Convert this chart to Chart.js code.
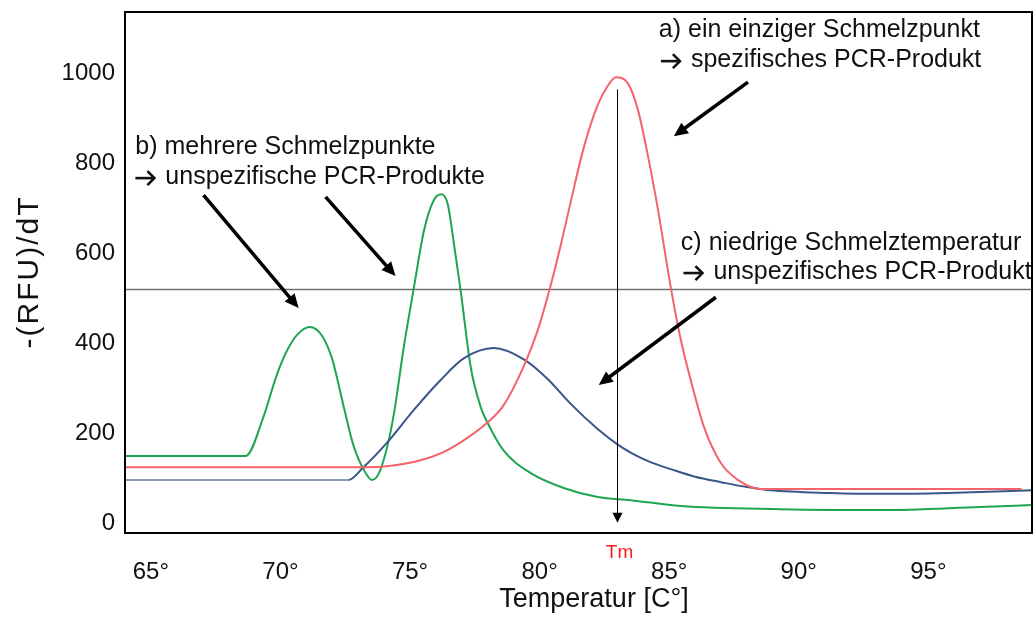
<!DOCTYPE html>
<html lang="de">
<head>
<meta charset="utf-8">
<title>Schmelzkurvenanalyse</title>
<script src="https://cdn.jsdelivr.net/npm/chart.js@4.4.1/dist/chart.umd.min.js"></script>
<style>
  html, body { margin: 0; padding: 0; background: #fff; }
  #wrap { width: 1035px; height: 617px; position: relative; }
</style>
</head>
<body>
<div id="wrap"><canvas id="melt"></canvas></div>
<script>
// Temperature ticks (°C) and -(RFU)/dT ticks
const tempTicks = [65, 70, 75, 80, 85, 90, 95];
const rfuTicks = [0, 200, 400, 600, 800, 1000];

// a) specific product: one melting peak
const redT = [64, 73.3, 75.14, 76.18, 77.07, 78.0, 78.6, 79.39, 79.93, 80.43, 80.8, 81.2, 81.7, 82.24, 82.63, 82.94, 83.4, 83.79, 84.17, 84.56, 85.06, 85.45, 85.83, 86.34, 87.0, 87.65, 88.27, 88.6, 98.6];
const redV = [125, 125, 137, 156, 185, 225, 262, 350, 430, 530, 615, 715, 835, 930, 973, 992, 979, 920, 820, 700, 525, 408, 319, 215, 134, 97, 79, 77, 77];

// b) several melting peaks
const greenT = [64, 68.65, 69.36, 69.74, 70.0, 70.32, 70.65, 71.12, 71.61, 72.0, 72.19, 72.5, 72.83, 73.29, 73.54, 73.8, 74.12, 74.38, 74.76, 75.15, 75.54, 75.92, 76.21, 76.45, 76.71, 76.95, 77.34, 77.72, 78.0, 78.6, 79.66, 80.93, 82.24, 83.5, 85.45, 89.3, 93.2, 97.0, 99.0];
const greenV = [150, 150, 240, 310, 352, 392, 420, 437, 417, 365, 322, 245, 171, 112, 97, 112, 171, 245, 393, 525, 652, 719, 732, 711, 615, 519, 348, 260, 223, 163, 112, 79, 59, 52, 39, 32, 30, 37, 41];

// c) low melting temperature, broad peak
const blueT = [64, 72.63, 73.2, 74.13, 75.14, 76.18, 77.07, 78.23, 79.39, 80.3, 81.2, 82.24, 83.0, 83.6, 84.3, 85.06, 86.0, 87.0, 88.0, 88.9, 91.2, 93.2, 95.75, 99.0];
const blueV = [97, 97, 125, 181, 252, 319, 367, 390, 365, 322, 266, 210, 176, 155, 136, 121, 104, 92, 81, 74, 68, 66, 68, 74];

// threshold level and melting temperature marker
const thresholdV = 520;
const tmT = 83;
const tmTop = 965;

const zip = (xs, ys) => xs.map((x, i) => ({ x: x, y: ys[i] }));
const FONT = '"Liberation Sans", Arial, Helvetica, sans-serif';

// text notes (arrow: line starts with a right arrow) and pointer arrows, in data units
const notes = [
  { t: 84.6, v: 1097, arrow: false, text: 'a) ein einziger Schmelzpunkt' },
  { t: 84.68, v: 1030, arrow: true, text: 'spezifisches PCR-Produkt' },
  { t: 64.4, v: 837, arrow: false, text: 'b) mehrere Schmelzpunkte' },
  { t: 64.4, v: 770, arrow: true, text: 'unspezifische PCR-Produkte' },
  { t: 85.45, v: 623, arrow: false, text: 'c) niedrige Schmelztemperatur' },
  { t: 85.55, v: 559, arrow: true, text: 'unspezifisches PCR-Produkt' }
];
const pointers = [
  { t0: 88.04, v0: 981, t1: 85.18, v1: 861 },
  { t0: 67.03, v0: 730, t1: 70.7, v1: 479 },
  { t0: 71.74, v0: 726, t1: 74.44, v1: 550 },
  { t0: 86.8, v0: 503, t1: 82.28, v1: 308 }
];

function arrowHead(ctx, x0, y0, x1, y1, len, half) {
  const a = Math.atan2(y1 - y0, x1 - x0);
  ctx.beginPath();
  ctx.moveTo(x1, y1);
  ctx.lineTo(x1 - len * Math.cos(a) + half * Math.sin(a), y1 - len * Math.sin(a) - half * Math.cos(a));
  ctx.lineTo(x1 - len * Math.cos(a) - half * Math.sin(a), y1 - len * Math.sin(a) + half * Math.cos(a));
  ctx.closePath();
  ctx.fill();
}

// small chevron arrow used in front of the second note lines
function textArrow(ctx, x, y) {
  ctx.save();
  ctx.strokeStyle = '#111';
  ctx.lineWidth = 2.6;
  ctx.lineCap = 'butt';
  ctx.lineJoin = 'miter';
  ctx.beginPath();
  ctx.moveTo(x, y);
  ctx.lineTo(x + 19, y);
  ctx.stroke();
  ctx.beginPath();
  ctx.moveTo(x + 12, y - 7);
  ctx.lineTo(x + 19, y);
  ctx.lineTo(x + 12, y + 7);
  ctx.stroke();
  ctx.restore();
}

const overlay = {
  id: 'meltOverlay',
  beforeDatasetsDraw(chart) {
    const { ctx, chartArea: ca, scales: { y } } = chart;
    ctx.save();
    // threshold line
    const ty = y.getPixelForValue(thresholdV);
    ctx.strokeStyle = '#707070';
    ctx.lineWidth = 1.5;
    ctx.beginPath();
    ctx.moveTo(ca.left, ty);
    ctx.lineTo(ca.right, ty);
    ctx.stroke();
    ctx.restore();
  },
  afterDraw(chart) {
    const { ctx, chartArea: ca, scales: { x, y } } = chart;
    ctx.save();

    // Tm marker: thin arrow from the peak down to the axis
    const tx = Math.round(x.getPixelForValue(tmT)) + 0.5;
    const yTop = y.getPixelForValue(tmTop);
    const yBot = y.getPixelForValue(2);
    ctx.strokeStyle = '#000';
    ctx.fillStyle = '#000';
    ctx.lineWidth = 1;
    ctx.beginPath();
    ctx.moveTo(tx, yTop);
    ctx.lineTo(tx, yBot - 8);
    ctx.stroke();
    arrowHead(ctx, tx, yTop, tx, yBot, 10, 5);

    // pointer arrows
    ctx.lineWidth = 3.5;
    ctx.lineCap = 'butt';
    pointers.forEach(p => {
      const x0 = x.getPixelForValue(p.t0), y0 = y.getPixelForValue(p.v0);
      const x1 = x.getPixelForValue(p.t1), y1 = y.getPixelForValue(p.v1);
      const a = Math.atan2(y1 - y0, x1 - x0);
      ctx.beginPath();
      ctx.moveTo(x0, y0);
      ctx.lineTo(x1 - 10 * Math.cos(a), y1 - 10 * Math.sin(a));
      ctx.stroke();
      arrowHead(ctx, x0, y0, x1, y1, 14, 6.5);
    });

    // notes
    ctx.fillStyle = '#111';
    ctx.font = '25px ' + FONT;
    ctx.textAlign = 'left';
    ctx.textBaseline = 'middle';
    notes.forEach(n => {
      const px = x.getPixelForValue(n.t), py = y.getPixelForValue(n.v);
      if (n.arrow) {
        textArrow(ctx, px, py + 1);
        ctx.fillText(n.text, px + 30, py);
      } else {
        ctx.fillText(n.text, px, py);
      }
    });

    // Tm label under the axis
    ctx.fillStyle = '#ff1a1a';
    ctx.font = '19px ' + FONT;
    ctx.textAlign = 'center';
    ctx.fillText('Tm', tx + 2, ca.bottom + 20);

    // axis titles
    ctx.fillStyle = '#111';
    ctx.font = '27px ' + FONT;
    ctx.textAlign = 'center';
    ctx.fillText('Temperatur [C\u00b0]', 594, 600);
    ctx.save();
    ctx.translate(30, 273);
    ctx.rotate(-Math.PI / 2);
    ctx.font = '30px ' + FONT;
    if ('letterSpacing' in ctx) ctx.letterSpacing = '2px';
    ctx.fillText('-(RFU)/dT', 1, 0);
    ctx.restore();

    // frame around the plot area
    ctx.strokeStyle = '#000';
    ctx.lineWidth = 2;
    ctx.strokeRect(ca.left, ca.top, ca.right - ca.left, ca.bottom - ca.top);
    ctx.restore();
  }
};

const blueFlatEnd = blueT[1];

new Chart(document.getElementById('melt'), {
  type: 'line',
  data: {
    datasets: [
      {
        label: 'a',
        data: zip(redT, redV),
        borderColor: '#f4636b',
        borderWidth: 2,
        pointRadius: 0,
        cubicInterpolationMode: 'monotone'
      },
      {
        label: 'c',
        data: zip(blueT, blueV),
        borderColor: '#3a5688',
        borderWidth: 2,
        pointRadius: 0,
        cubicInterpolationMode: 'monotone',
        segment: {
          borderColor: c => (c.p1.parsed.x <= blueFlatEnd ? '#8e9cb4' : undefined)
        }
      },
      {
        label: 'b',
        data: zip(greenT, greenV),
        borderColor: '#1fa552',
        borderWidth: 2,
        pointRadius: 0,
        cubicInterpolationMode: 'monotone'
      }
    ]
  },
  options: {
    responsive: true,
    maintainAspectRatio: false,
    animation: false,
    events: [],
    layout: { padding: { top: 12, right: 3, left: 0, bottom: 0 } },
    plugins: { legend: { display: false }, tooltip: { enabled: false } },
    scales: {
      x: {
        type: 'linear',
        min: 64,
        max: 99,
        afterBuildTicks: s => { s.ticks = tempTicks.map(v => ({ value: v })); },
        afterFit: s => { s.height = 84; s.paddingLeft = 0; s.paddingRight = 0; },
        grid: { display: false, drawTicks: false },
        border: { display: false },
        ticks: {
          padding: 25,
          color: '#111',
          font: { size: 24, family: FONT },
          maxRotation: 0,
          callback: v => v + '\u00b0'
        }
      },
      y: {
        type: 'linear',
        min: -21,
        max: 1137,
        afterBuildTicks: s => { s.ticks = rfuTicks.map(v => ({ value: v })); },
        afterFit: s => { s.width = 125; s.paddingTop = 0; s.paddingBottom = 0; },
        grid: { display: false, drawTicks: false },
        border: { display: false },
        ticks: {
          padding: 10,
          color: '#111',
          font: { size: 24, family: FONT },
          callback: v => String(v)
        }
      }
    }
  },
  plugins: [overlay]
});
</script>
</body>
</html>
